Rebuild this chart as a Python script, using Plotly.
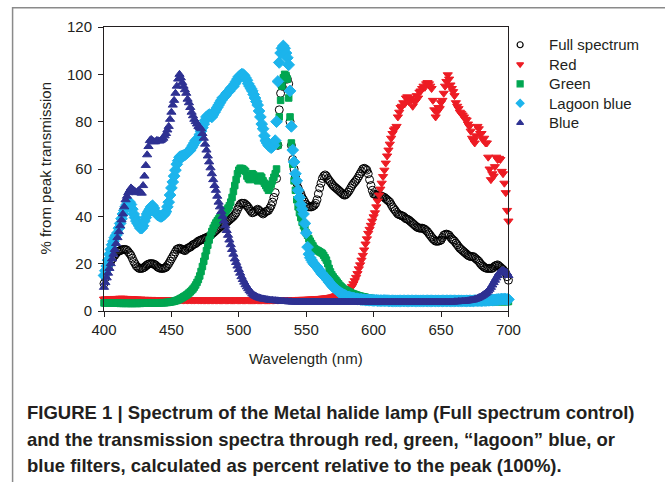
import plotly.graph_objects as go

WAVELENGTH = list(range(400, 701))

FULL_SPECTRUM = [
    11.6, 14, 17, 18.5, 20, 21, 22, 23, 23.5, 24.3,
    25, 25.3, 25.5, 25.8, 26, 26, 26, 25.7, 25, 24.3,
    23.5, 22.3, 21, 20, 19, 18.5, 18, 18, 18, 18.2,
    18.5, 19, 19.5, 19.8, 20, 20, 20, 19.8, 19.5, 19,
    18.5, 18.2, 18, 18, 18, 18.2, 18.5, 19.2, 20, 21,
    22, 23, 24, 25, 26, 26.3, 26.5, 26.3, 26, 25.8,
    25.5, 26, 26.5, 26.8, 27, 27.5, 28, 28.3, 28.5, 29,
    29.5, 29.8, 30, 30.3, 30.5, 30.8, 31, 31.3, 31.5, 32,
    32.5, 33, 33.5, 34, 34.5, 35, 35.5, 36, 36.5, 36.8,
    37, 37.5, 38, 38.5, 39, 39.5, 40, 40.7, 41.5, 42.8,
    44, 45, 45.5, 45.5, 45.5, 45, 44.5, 43.8, 43, 42.2,
    41.5, 41.7, 42, 42.5, 43, 42.5, 42, 41.5, 41, 41.5,
    42, 42.2, 42.5, 43.5, 44.5, 46, 48, 50, 56, 70,
    85, 92, 95, 97.5, 99, 99, 98, 96, 80, 70,
    64, 60, 57, 54, 52, 50.5, 49.5, 48, 47, 46,
    45, 44.5, 44, 44, 44, 44.3, 44.7, 45.5, 47, 49.5,
    52, 54, 56, 57, 57.5, 57, 56, 55.2, 54.5, 53.7,
    53, 52.5, 52, 51.5, 51, 50.5, 50, 49.5, 49, 49,
    49.5, 50.2, 51, 52, 53, 53.8, 54.5, 55.2, 56, 57,
    58, 59, 60, 60.3, 60, 59.5, 58, 55.5, 53, 51,
    49.5, 49.2, 49, 49, 49, 48.8, 48.5, 48.2, 48, 47.5,
    47, 46.5, 46, 45, 44, 43.2, 42.5, 41.7, 41, 40.7,
    40.5, 40.2, 40, 39.5, 39, 38.8, 38.5, 38, 37.5, 37,
    36.5, 36, 35.5, 35.2, 35, 35, 35, 34.8, 34.5, 34,
    33.5, 32.7, 32, 31.2, 30.5, 30, 29.5, 29.5, 29.5, 29.7,
    30, 31, 32, 32.3, 32.5, 32.3, 32, 31.2, 30.5, 30,
    29.5, 28.7, 28, 27.2, 26.5, 26, 25.5, 25, 24.5, 24,
    23.5, 23.2, 23, 23, 23, 22.5, 22, 21.5, 21, 20.2,
    19.5, 19, 18.5, 18.2, 18, 18, 18, 18, 18, 18.5,
    19, 19.3, 19.5, 19, 18.5, 18, 17.5, 16.8, 16, 14.5,
    13,
]

RED = [
    5.0, 5.1, 5.0, 5.1, 5.2, 5.1, 5.2, 5.2, 5.3, 5.2,
    5.3, 5.3, 5.4, 5.3, 5.4, 5.3, 5.3, 5.3, 5.2, 5.2,
    5.2, 5.1, 5.1, 5.0, 5.0, 5.0, 4.9, 5.0, 4.9, 4.9,
    4.9, 4.8, 4.9, 4.8, 4.8, 4.9, 4.8, 4.8, 4.7, 4.8,
    4.8, 4.7, 4.8, 4.7, 4.7, 4.8, 4.7, 4.7, 4.7, 4.7,
    4.7, 4.6, 4.7, 4.7, 4.6, 4.7, 4.6, 4.7, 4.7, 4.6,
    4.7, 4.7, 4.6, 4.7, 4.7, 4.6, 4.7, 4.6, 4.7, 4.7,
    4.6, 4.7, 4.6, 4.7, 4.6, 4.6, 4.7, 4.6, 4.6, 4.7,
    4.6, 4.6, 4.7, 4.6, 4.6, 4.7, 4.6, 4.6, 4.6, 4.7,
    4.6, 4.6, 4.6, 4.7, 4.6, 4.6, 4.6, 4.6, 4.7, 4.6,
    4.6, 4.6, 4.7, 4.6, 4.6, 4.6, 4.7, 4.6, 4.6, 4.6,
    4.6, 4.6, 4.6, 4.7, 4.6, 4.6, 4.6, 4.6, 4.7, 4.6,
    4.6, 4.6, 4.6, 4.6, 4.7, 4.6, 4.6, 4.7, 4.7, 4.6,
    4.7, 4.7, 4.7, 4.7, 4.7, 4.7, 4.8, 4.7, 4.8, 4.8,
    4.8, 4.8, 4.8, 4.8, 4.8, 4.9, 4.8, 4.9, 4.9, 4.9,
    4.9, 4.9, 5.0, 5.0, 5.0, 5.1, 5.1, 5.1, 5.2, 5.2,
    5.3, 5.3, 5.4, 5.4, 5.5, 5.5, 5.6, 5.7, 5.8, 5.9,
    6.0, 6.2, 6.4, 6.6, 6.9, 7.2, 7.5, 7.8, 8.1, 8.4,
    8.6, 8.8, 9.0, 9.6, 10.4, 11.5, 12.8, 14.2, 15.8, 17.8,
    19.5, 21.5, 23.5, 25.8, 28.3, 30.5, 32.8, 34.5, 36.2, 38,
    39.8, 41.5, 44, 46.5, 49, 51.5, 54, 56.8, 59.5, 62.5,
    65.5, 68, 70.5, 73, 75, 76.5, 77, 78, 82, 84,
    86, 86.5, 88, 87.5, 90, 90.5, 88.5, 90, 89, 86.5,
    89, 88.5, 91, 90, 92.5, 93, 94, 95, 94.5, 96,
    96.5, 96, 95, 94, 89, 85, 82, 84, 86, 85.5,
    88, 89, 92, 95, 97, 99.8, 98, 95.5, 94, 92.7,
    91, 88, 86.5, 85.5, 84, 83.5, 82.8, 82, 81, 80.7,
    79, 78, 76, 73, 72, 71, 74, 78, 77, 75,
    75, 72.5, 73, 71, 71, 65, 60, 55.5, 58, 57,
    61, 65, 64, 64.5, 64, 59, 58, 54, 50, 42.5,
    38,
]

GREEN = [
    3.4, 3.4, 3.3, 3.4, 3.3, 3.4, 3.3, 3.3, 3.4, 3.3,
    3.3, 3.3, 3.2, 3.3, 3.2, 3.3, 3.2, 3.2, 3.3, 3.2,
    3.2, 3.2, 3.2, 3.3, 3.2, 3.2, 3.3, 3.2, 3.3, 3.3,
    3.3, 3.3, 3.3, 3.3, 3.4, 3.3, 3.4, 3.4, 3.4, 3.4,
    3.4, 3.4, 3.5, 3.5, 3.5, 3.5, 3.6, 3.6, 3.7, 3.8,
    3.9, 4.0, 4.1, 4.3, 4.5, 4.7, 5.0, 5.3, 5.6, 6.0,
    6.3, 6.7, 7.1, 7.6, 8.1, 8.7, 9.3, 10.1, 11.0, 12.1,
    13.3, 14.8, 16.7, 18.8, 21.0, 23.2, 25.5, 27.8, 30, 32,
    33.6, 35, 36.2, 37.2, 38.1, 38.9, 39.6, 40.2, 40.8, 41.4,
    42, 42.7, 43.5, 44.5, 46, 48, 50.5, 53, 55.5, 58,
    59.5, 60.3, 60.2, 60, 59.5, 59, 57, 56, 55.5, 57,
    58, 57.5, 56.5, 55.5, 55, 56, 57, 56.5, 55, 54,
    53, 52, 51, 52, 53.5, 55, 56.5, 58, 60, 70,
    82, 89, 95, 98.5, 100, 99.5, 98, 90, 82, 71,
    62, 55, 51, 47, 44, 41.5, 39.5, 37.5, 36, 34.5,
    33, 32, 30.5, 29.5, 28.5, 27.5, 26.5, 26, 25.7, 25.4,
    25, 24.7, 24.3, 23.5, 22.5, 21.5, 20, 18, 16.5, 15.3,
    14.4, 13.6, 13, 12.2, 11.5, 10.8, 10.2, 9.7, 9.2, 8.9,
    8.6, 8.3, 8, 7.7, 7.4, 7.2, 7, 6.8, 6.6, 6.4,
    6.3, 6.1, 6, 5.9, 5.8, 5.6, 5.5, 5.4, 5.3, 5.2,
    5.1, 5.0, 4.9, 4.8, 4.7, 4.6, 4.5, 4.5, 4.4, 4.4,
    4.3, 4.3, 4.2, 4.2, 4.2, 4.1, 4.1, 4.1, 4.1, 4.0,
    4.0, 4.0, 4.0, 4.0, 4.0, 4.0, 4.0, 4.0, 4.0, 4.0,
    4.0, 4.0, 4.0, 4.0, 4.0, 4.0, 4.0, 4.0, 4.0, 4.0,
    4.0, 4.0, 4.0, 4.0, 4.0, 4.0, 4.0, 4.0, 4.0, 4.0,
    4.0, 4.0, 4.0, 4.0, 4.0, 4.0, 4.0, 4.0, 4.0, 4.0,
    4.0, 4.0, 4.0, 4.0, 4.0, 4.0, 4.0, 4.0, 4.0, 4.0,
    4.0, 4.0, 4.0, 4.0, 4.0, 4.0, 4.0, 4.0, 4.0, 4.0,
    4.0, 4.0, 4.0, 4.0, 4.0, 4.0, 4.0, 4.0, 4.0, 4.0,
    4.0, 4.0, 4.0, 4.0, 4.0, 4.0, 4.0, 4.0, 4.0, 4.0,
    4.0,
]

LAGOON_BLUE = [
    15, 17, 19, 21.5, 24, 26, 28, 29.5, 31, 32,
    33, 35, 37, 39, 41, 42.5, 44, 45, 46, 46,
    45, 43, 41, 39.5, 38, 37, 36, 35, 35, 36,
    38, 39.5, 41, 42, 43, 44, 44.5, 43.5, 42, 41,
    40.5, 40.2, 40, 40, 40.5, 41, 42, 44, 46, 49,
    52, 54.5, 57, 59.5, 62, 63.5, 65, 65.3, 65.5, 65.7,
    66, 66.5, 67, 67.5, 68, 69, 70, 71, 72, 72.5,
    73, 74.5, 76, 77.5, 79, 80.5, 82, 82.5, 83, 82.5,
    82, 83, 84, 85, 86, 87, 88, 89, 90, 90.5,
    91, 92, 92.5, 93, 94, 94.5, 95, 96, 97, 98,
    99, 99.5, 100, 100, 99.5, 98.5, 97.5, 96, 95, 94,
    93, 91.5, 90, 88.5, 87, 84.5, 82, 79, 77, 74,
    72, 71, 70, 69.5, 69, 69.5, 70, 72, 80, 97,
    105, 109, 111, 112, 111, 109, 107, 104, 93, 78,
    68, 63, 58, 55, 51, 48, 45, 43, 41, 37,
    33, 27, 24, 22.5, 21.5, 20.5, 19.8, 19.2, 18.6, 17.8,
    17, 16.2, 15.5, 15, 14.4, 13.7, 13, 12.2, 11.5, 10.8,
    10.2, 9.7, 9.2, 8.7, 8.2, 7.8, 7.4, 7.1, 6.8, 6.5,
    6.2, 6.0, 5.9, 5.7, 5.6, 5.4, 5.3, 5.2, 5.1, 5.0,
    4.9, 4.9, 4.8, 4.8, 4.7, 4.7, 4.6, 4.6, 4.6, 4.5,
    4.5, 4.5, 4.5, 4.4, 4.4, 4.4, 4.4, 4.4, 4.4, 4.4,
    4.4, 4.3, 4.3, 4.3, 4.3, 4.3, 4.3, 4.3, 4.3, 4.3,
    4.3, 4.3, 4.3, 4.3, 4.3, 4.3, 4.3, 4.3, 4.3, 4.3,
    4.3, 4.3, 4.3, 4.3, 4.3, 4.3, 4.3, 4.3, 4.3, 4.3,
    4.3, 4.3, 4.3, 4.3, 4.3, 4.3, 4.3, 4.3, 4.3, 4.3,
    4.3, 4.3, 4.3, 4.3, 4.3, 4.3, 4.3, 4.3, 4.3, 4.3,
    4.3, 4.3, 4.3, 4.3, 4.3, 4.3, 4.3, 4.3, 4.3, 4.3,
    4.3, 4.3, 4.3, 4.3, 4.3, 4.4, 4.4, 4.4, 4.4, 4.4,
    4.4, 4.4, 4.5, 4.5, 4.5, 4.5, 4.6, 4.6, 4.6, 4.7,
    4.7, 4.8, 4.8, 4.9, 4.9, 5.0, 5.0, 5.0, 5.0, 4.9,
    4.9,
]

BLUE = [
    10, 12, 14, 16, 18, 20, 22, 24, 26, 28.5,
    31, 33.5, 36, 38.5, 41, 44, 47, 48.5, 50, 51,
    52, 51.5, 51, 50.5, 50, 50.5, 51, 50, 49.8, 53,
    57, 61.5, 66, 69.5, 72, 72.5, 72, 71.5, 71.5, 72,
    72, 71.8, 72, 72.5, 73, 74, 75, 76.5, 78, 81,
    84, 87, 89, 92, 95, 98, 100, 98.5, 96.5, 95,
    93.5, 92, 89.5, 88, 86, 84, 82.5, 81, 80, 79,
    78, 77.5, 77, 75, 73, 70.5, 68, 65.5, 63, 60.5,
    58, 55.5, 53, 51, 48.5, 46, 44, 42, 40, 38,
    36, 34, 32, 30, 28, 26, 24, 22, 20.5, 19,
    17.5, 16, 14.5, 13.3, 12.2, 11.1, 10.2, 9.4, 8.6, 8,
    7.2, 6.8, 6.4, 6.1, 5.8, 5.6, 5.4, 5.2, 5.1, 5.0,
    4.9, 4.8, 4.7, 4.6, 4.5, 4.5, 4.4, 4.4, 4.3, 4.3,
    4.2, 4.2, 4.1, 4.1, 4.0, 4.0, 4.0, 3.9, 3.9, 3.9,
    3.8, 3.8, 3.8, 3.8, 3.8, 3.8, 3.8, 3.8, 3.8, 3.8,
    3.8, 3.8, 3.8, 3.8, 3.8, 3.8, 3.8, 3.8, 3.8, 3.8,
    3.8, 3.8, 3.8, 3.8, 3.8, 3.8, 3.8, 3.8, 3.8, 3.8,
    3.8, 3.8, 3.8, 3.8, 3.8, 3.8, 3.8, 3.8, 3.8, 3.8,
    3.8, 3.8, 3.8, 3.8, 3.8, 3.8, 3.8, 3.8, 3.8, 3.8,
    3.8, 3.8, 3.8, 3.8, 3.8, 3.8, 3.8, 3.8, 3.8, 3.8,
    3.8, 3.8, 3.8, 3.8, 3.8, 3.8, 3.8, 3.8, 3.8, 3.8,
    3.8, 3.8, 3.8, 3.8, 3.8, 3.8, 3.8, 3.8, 3.8, 3.8,
    3.8, 3.8, 3.8, 3.8, 3.8, 3.8, 3.8, 3.8, 3.8, 3.8,
    3.8, 3.8, 3.8, 3.8, 3.8, 3.8, 3.8, 3.8, 3.8, 3.8,
    3.8, 3.8, 3.8, 3.8, 3.8, 3.8, 3.8, 3.8, 3.8, 3.8,
    3.8, 3.8, 3.8, 3.8, 3.8, 3.8, 3.8, 3.8, 3.8, 3.8,
    3.9, 3.9, 3.9, 4.0, 4.0, 4.0, 4.1, 4.1, 4.2, 4.2,
    4.3, 4.4, 4.5, 4.6, 4.7, 4.9, 5.1, 5.3, 5.6, 5.9,
    6.2, 6.6, 7.0, 7.4, 7.9, 8.5, 9.2, 10, 11, 12,
    13, 14, 15, 16, 16.5, 17, 17, 16.8, 16.5, 16,
    15,
]

SERIES_NAMES = ["Full spectrum", "Red", "Green", "Lagoon blue", "Blue"]
X_TICKS = [400, 450, 500, 550, 600, 650, 700]
Y_TICKS = [0, 20, 40, 60, 80, 100, 120]

CAPTION_LINES = [
    "FIGURE 1 | Spectrum of the Metal halide lamp (Full spectrum control)",
    "and the transmission spectra through red, green, \u201clagoon\u201d blue, or",
    "blue filters, calculated as percent relative to the peak (100%).",
]

FONT = "Liberation Sans, Arial, Helvetica, sans-serif"
TXT = "#231F20"

STYLES = [
    dict(symbol="circle-open", color="#000000", size=8),
    dict(symbol="triangle-down", color="#ED1C24", size=8),
    dict(symbol="square", color="#00A651", size=6.5),
    dict(symbol="diamond", color="#1CB4EC", size=9),
    dict(symbol="triangle-up", color="#2E3192", size=8),
]
DATA = [FULL_SPECTRUM, RED, GREEN, LAGOON_BLUE, BLUE]

# figure geometry in page pixels (body margin removed by the post script)
W, H = 665, 482
L, T = 103.5, 27.3
PW, PH = 404.8, 283.4          # main plotting area
RM = 8
PAPER_W = W - L - RM
B = H - T - PH
LEG_X0 = 511                    # left edge of the legend strip


def px_x(px):
    return (px - L) / PAPER_W


def px_y(py):
    return (T + PH - py) / PH


fig = go.Figure()
for name, vals, st in zip(SERIES_NAMES, DATA, STYLES):
    fig.add_trace(go.Scatter(
        x=WAVELENGTH, y=vals, mode="markers", name=name, showlegend=False,
        marker=dict(symbol=st["symbol"], color=st["color"], size=st["size"],
                    line=dict(width=1, color=st["color"])),
        cliponaxis=False,
    ))

# legend drawn in its own invisible subplot, measured in page pixels
LEG_MARK_X, LEG_TEXT_X, LEG_TOP, LEG_STEP = 520, 547, 45, 19.5
annotations = []
for i, (name, st) in enumerate(zip(SERIES_NAMES, STYLES)):
    ypx = LEG_TOP + LEG_STEP * i
    fig.add_trace(go.Scatter(
        x=[LEG_MARK_X], y=[ypx], xaxis="x3", yaxis="y3", mode="markers",
        showlegend=False, hoverinfo="skip", cliponaxis=False,
        marker=dict(symbol=st["symbol"], color=st["color"], size=6,
                    line=dict(width=1.2, color=st["color"])),
    ))
    annotations.append(dict(
        text=name, x=px_x(LEG_TEXT_X), y=px_y(ypx), xref="paper", yref="paper",
        showarrow=False, xanchor="left", yanchor="middle",
        font=dict(family=FONT, size=15, color=TXT)))

annotations += [
    dict(text="Wavelength (nm)", x=px_x(306), y=px_y(358), xref="paper", yref="paper",
         showarrow=False, xanchor="center", yanchor="middle",
         font=dict(family=FONT, size=15, color=TXT)),
    dict(text="% from peak transmission", x=px_x(45), y=px_y(168), xref="paper", yref="paper",
         showarrow=False, xanchor="center", yanchor="middle", textangle=-90,
         font=dict(family=FONT, size=15, color=TXT)),
]
for i, line in enumerate(CAPTION_LINES):
    annotations.append(dict(
        text="<b>" + line + "</b>", x=px_x(24), y=px_y(412 + 26.5 * i),
        xref="paper", yref="paper", showarrow=False, xanchor="left", yanchor="middle",
        font=dict(family=FONT, size=18.5, color=TXT),
    ))

axis_common = dict(
    showgrid=False, zeroline=False, showline=True, linecolor="#231F20", linewidth=1,
    mirror=True, ticks="outside", ticklen=5, tickwidth=1, tickcolor="#231F20",
    tickfont=dict(family=FONT, size=15, color=TXT), automargin=False,
)

fig.update_layout(
    width=W, height=H, autosize=False,
    margin=dict(l=L, r=RM, t=T, b=B, pad=0, autoexpand=False),
    paper_bgcolor="white", plot_bgcolor="rgba(0,0,0,0)",
    xaxis=dict(range=[400, 700], tickvals=X_TICKS, domain=[0, PW / PAPER_W], **axis_common),
    yaxis=dict(range=[0, 120], tickvals=Y_TICKS, ticklabelstandoff=3, **axis_common),
    xaxis3=dict(domain=[px_x(LEG_X0), 1], range=[LEG_X0, W - RM], anchor="y3",
                visible=False, fixedrange=True, automargin=False),
    yaxis3=dict(domain=[0, 1], range=[T + PH, T], anchor="x3",
                visible=False, fixedrange=True, automargin=False),
    showlegend=False,
    annotations=annotations,
    shapes=[dict(type="rect", xref="paper", yref="paper",
                 x0=px_x(12), x1=px_x(730), y0=px_y(8), y1=px_y(560),
                 line=dict(color="#8A8A8A", width=1.5), fillcolor="rgba(0,0,0,0)", layer="below")],
)

fig.write_html(
    "out.html",
    config={"displayModeBar": False, "staticPlot": True},
    post_script=(
        "document.body.style.margin='0';"
        "document.documentElement.style.overflow='hidden';"
        "document.body.style.overflow='hidden';"
    ),
)
